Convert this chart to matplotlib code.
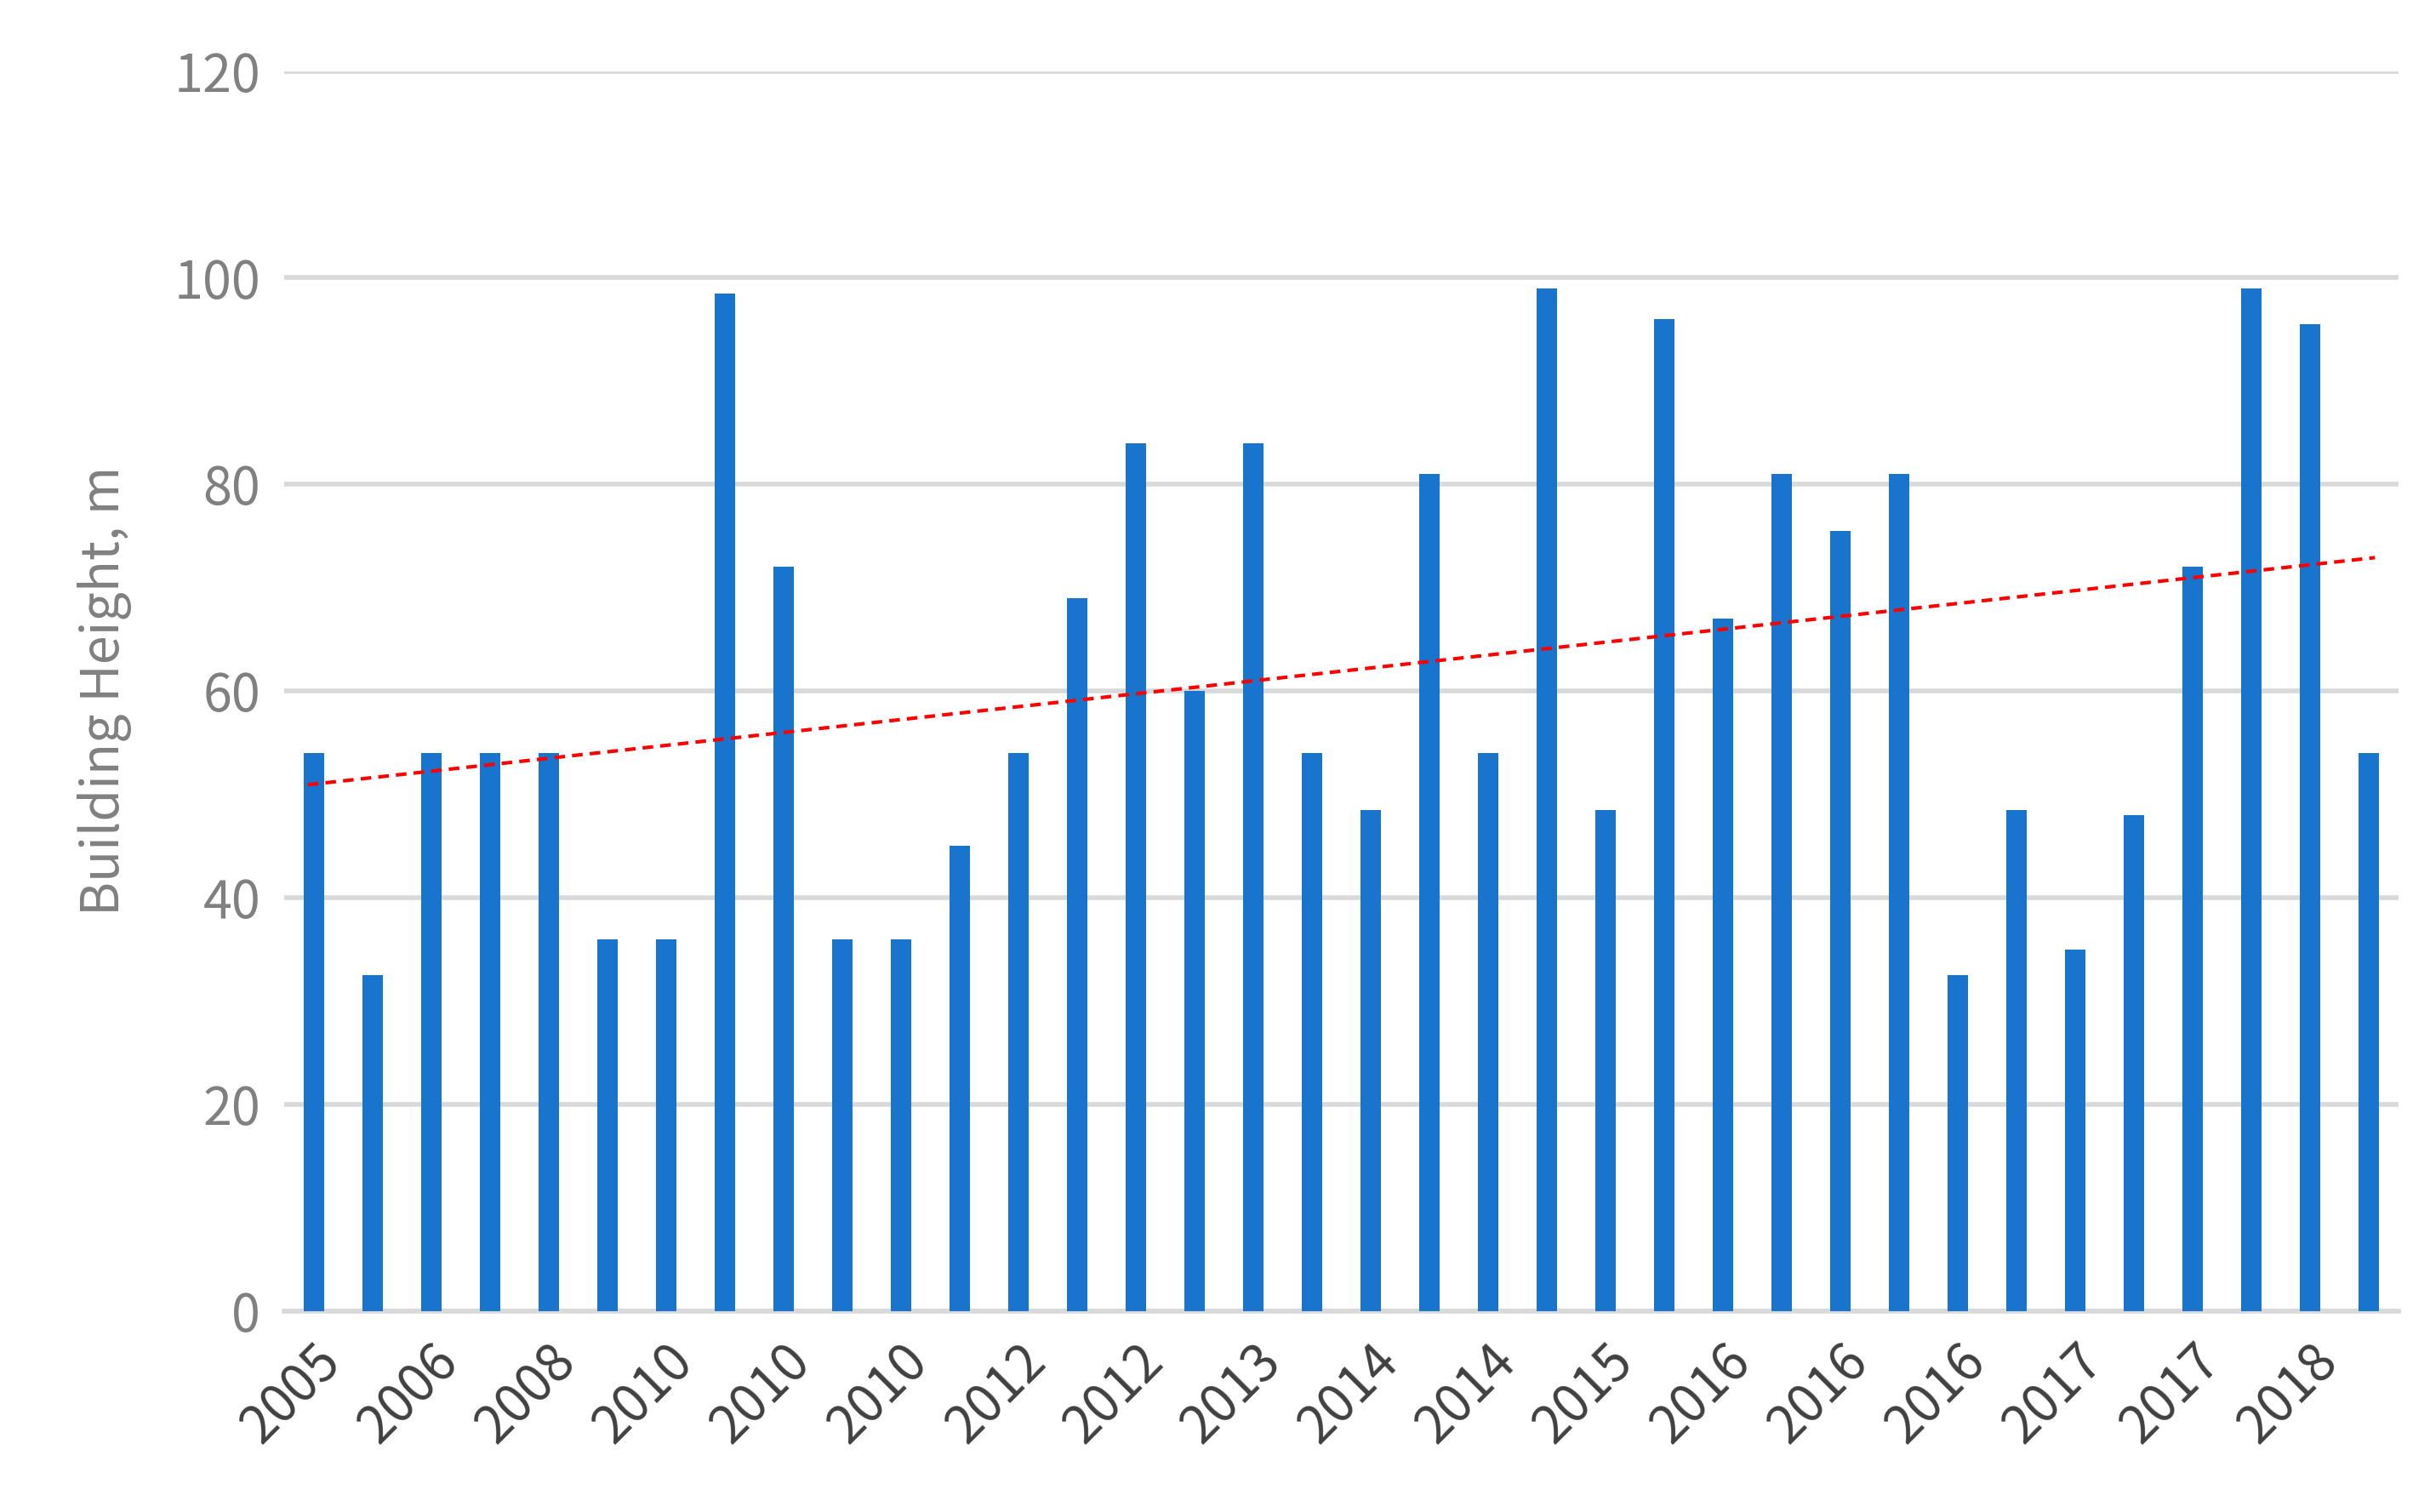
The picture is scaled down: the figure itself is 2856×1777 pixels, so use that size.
import matplotlib
matplotlib.use("Agg")
import matplotlib.pyplot as plt
import numpy as np

heights = [54, 32.5, 54, 54, 54, 36, 36, 98.5, 72, 36, 36, 45, 54, 69, 84, 60, 84, 54,
           48.5, 81, 54, 99, 48.5, 96, 67, 81, 75.5, 81, 32.5, 48.5, 35, 48, 72, 99, 95.5, 54]
tick_labels = ["2005", "2006", "2008", "2010", "2010", "2010", "2012", "2012", "2013",
               "2014", "2014", "2015", "2016", "2016", "2016", "2017", "2017", "2018"]
yticks = [0, 20, 40, 60, 80, 100, 120]

plt.rcParams['font.family'] = ['Noto Sans CJK SC', 'DejaVu Sans']
fig = plt.figure(figsize=(14.28, 8.885), dpi=200)
ax = fig.add_axes([0.117, 0.133, 0.870, 0.820])
x = np.arange(len(heights))
ax.bar(x, heights, width=0.35, color='#1874CD', zorder=3)
k, b = np.polyfit(x, heights, 1)
xx = np.array([-0.1, len(heights) - 1 + 0.1])
ax.plot(xx, k * xx + b, color='#FF0000', linestyle=(0, (3, 2)), linewidth=1.5, zorder=4)

ax.set_xlim(-0.5, len(heights) - 0.5)
ax.set_ylim(0, 120)
ax.set_yticks(yticks)
ax.set_yticklabels([str(v) for v in yticks], fontsize=22, color='#808080')
ax.set_xticks(x[::2])
ax.set_xticklabels(tick_labels, rotation=45, ha='right', rotation_mode='anchor',
                   fontsize=22, color='#404040')
ax.tick_params(axis='both', length=0, pad=10)
ax.grid(axis='y', color='#D9D9D9', linewidth=2, zorder=0)
for s in ['top', 'right', 'left']:
    ax.spines[s].set_visible(False)
ax.spines['bottom'].set_color('#D9D9D9')
ax.spines['bottom'].set_linewidth(2)
ax.set_ylabel('Building Height, m', fontsize=22, color='#808080', labelpad=18)
fig.savefig('out.png', dpi=200)
